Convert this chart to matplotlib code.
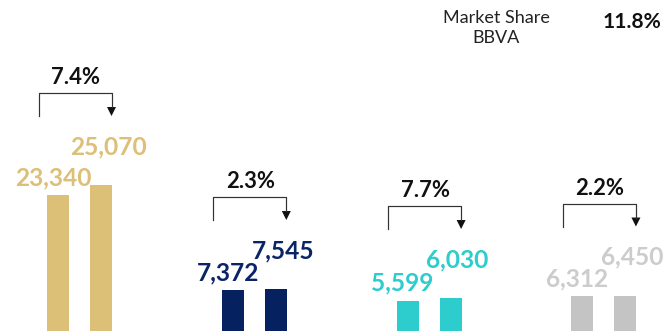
import numpy as np
import matplotlib
matplotlib.use("Agg")
import matplotlib.pyplot as plt
from matplotlib.lines import Line2D
from matplotlib.patches import Polygon
from matplotlib.transforms import IdentityTransform

# Values per segment: previous period vs current period
previous = [23340, 7372, 5599, 6312]
current = [25070, 7545, 6030, 6450]
growth_labels = ["7.4%", "2.3%", "7.7%", "2.2%"]
bar_colors = ["#DCC077", "#06215F", "#2DCCCD", "#C4C4C4"]
label_colors = ["#DCC077", "#0A2466", "#2DCCCD", "#CCCCCC"]
share_title = ["Market Share", "BBVA"]
share_value = "11.8%"

W, H, DPI = 670, 331, 72
fig = plt.figure(figsize=(W / DPI, H / DPI), dpi=DPI)
ax = fig.add_axes([0, 0, 1, 1])
ax.axis("off")

x = np.arange(len(previous))
off, bw = 0.123, 0.126
ax.bar(x - off, previous, bw, color=bar_colors, linewidth=0)
ax.bar(x + off, current, bw, color=bar_colors, linewidth=0)
ax.set_xlim(-0.4548, 3.378)
ax.set_ylim(472, 56245)

bold = dict(family=["Lato", "DejaVu Sans"], fontweight="bold")

# value labels, staggered above each bar
for i in range(len(x)):
    ax.annotate(f"{previous[i]:,}", xy=(x[i] - off, previous[i]), xytext=(-5, 10),
                textcoords="offset points", ha="center", va="baseline",
                fontsize=24.5, color=label_colors[i], **bold)
    ax.annotate(f"{current[i]:,}", xy=(x[i] + off, current[i]), xytext=(7, 31),
                textcoords="offset points", ha="center", va="baseline",
                fontsize=24.5, color=label_colors[i], **bold)

# growth brackets with arrow into the current-period bar
ident = IdentityTransform()
for i in range(len(x)):
    cx, top_bar = ax.transData.transform((x[i], max(previous[i], current[i])))
    top = top_bar + 92
    left, right = cx - 41, cx + 32
    fig.add_artist(Line2D([left, left, right, right], [top - 23, top, top, top - 14],
                          transform=ident, color="#333333", linewidth=1.2))
    fig.add_artist(Polygon([(right - 4.5, top - 14), (right + 4.5, top - 14), (right, top - 23)],
                           closed=True, transform=ident, facecolor="#111111", edgecolor="none"))
    fig.text(cx - 4, top + 9, growth_labels[i], transform=ident, ha="center", va="baseline",
             fontsize=22, color="#111111", **bold)

# market share block
regular = dict(family=["Lato", "DejaVu Sans"], fontweight="normal")
fig.text(496, H - 23, share_title[0], transform=ident, ha="center", va="baseline",
         fontsize=18, color="#222222", **regular)
fig.text(496, H - 43, share_title[1], transform=ident, ha="center", va="baseline",
         fontsize=18, color="#222222", **regular)
fig.text(632, H - 28, share_value, transform=ident, ha="center", va="baseline",
         fontsize=21, color="#111111", **bold)

fig.savefig("out.png", dpi=DPI)
